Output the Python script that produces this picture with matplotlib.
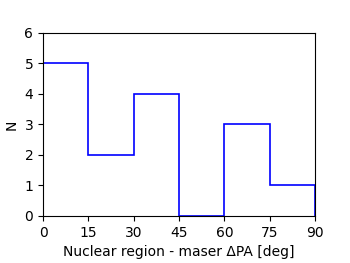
import numpy as np
import matplotlib
matplotlib.use("Agg")
import matplotlib.pyplot as plt

bin_edges = [0, 15, 30, 45, 60, 75, 90]
counts = [5, 2, 4, 0, 3, 1]
xticks = [0, 15, 30, 45, 60, 75, 90]

fig = plt.figure(figsize=(3.5, 2.63), dpi=100)
ax = fig.add_axes([0.123, 0.179, 0.777, 0.696])

ax.stairs(counts, bin_edges, baseline=0, color="b", linewidth=1.2)

ax.set_xlim(0, 90)
ax.set_ylim(0, 6)
ax.set_xticks(xticks)
ax.set_yticks(range(7))
ax.set_xlabel("Nuclear region - maser ΔPA [deg]", fontsize=10)
ax.set_ylabel("N", fontsize=10)
ax.tick_params(labelsize=10)

fig.savefig("out.png", dpi=100)
